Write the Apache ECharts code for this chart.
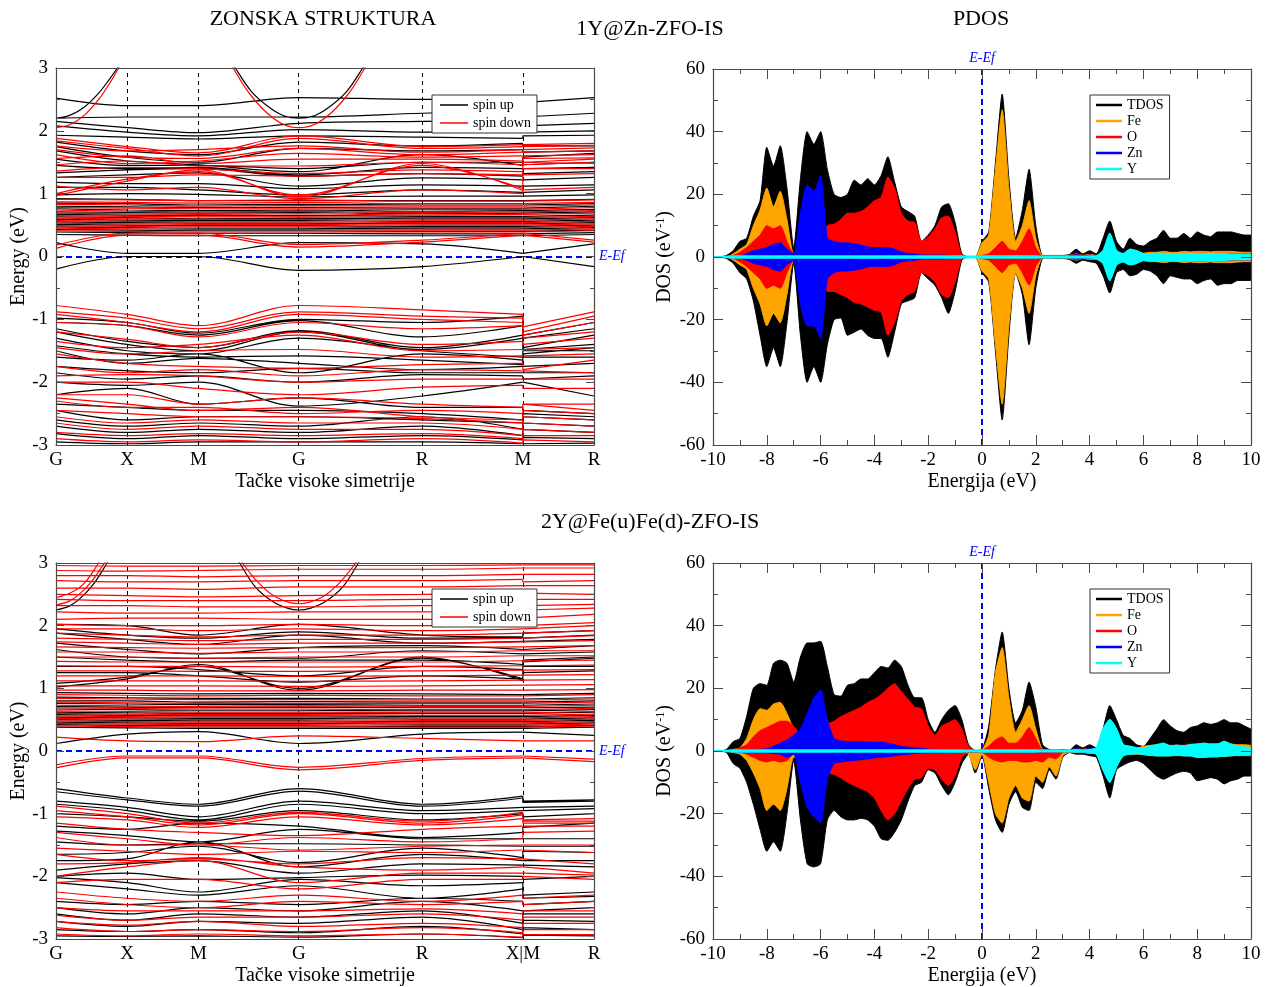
<!DOCTYPE html>
<html>
<head>
<meta charset="utf-8">
<script src="https://cdn.jsdelivr.net/npm/echarts@6/dist/echarts.min.js"></script>
<style>
  html, body { margin: 0; padding: 0; background: #fff; }
  #chart { width: 1274px; height: 987px; }
</style>
</head>
<body>
<div id="chart"></div>
<script>
// ---------- k-path (band structure x axis) ----------
const kPos = [0, 1, 2, 3.414, 5.146, 6.560, 7.560];
const kLabelsTop = ['G', 'X', 'M', 'G', 'R', 'M', 'R'];
const kLabelsBottom = ['G', 'X', 'M', 'G', 'R', 'X|M', 'R'];

// Band energies (eV) at G, X, M, G, R, M | M, R
// ---- 1Y@Zn-ZFO-IS, spin up ----
const bandsUpA = [
  [2.52, 2.40, 2.40, 2.53, 2.50, 2.50, 2.45, 2.53],
  [2.20, 2.22, 2.22, 2.22, 2.28, 2.33, 2.22, 2.28],
  [2.15, 2.05, 1.97, 2.12, 2.15, 2.16, 2.08, 2.12],
  [2.08, 1.98, 1.92, 2.02, 1.98, 1.98, 1.98, 2.00],
  [1.93, 1.90, 1.87, 1.92, 1.90, 1.88, 1.92, 1.93],
  [1.82, 1.68, 1.62, 1.82, 1.76, 1.80, 1.76, 1.76],
  [1.75, 1.58, 1.50, 1.72, 1.68, 1.70, 1.66, 1.68],
  [1.68, 1.52, 1.46, 1.35, 1.62, 1.45, 1.58, 1.64],
  [1.55, 1.45, 1.45, 1.40, 1.50, 1.50, 1.46, 1.50],
  [1.45, 1.40, 1.42, 1.30, 1.42, 1.40, 1.40, 1.42],
  [1.33, 1.38, 1.40, 1.28, 1.32, 1.28, 1.32, 1.35],
  [1.26, 1.30, 1.33, 1.12, 1.25, 1.22, 1.24, 1.26],
  [1.18, 1.16, 1.16, 1.08, 1.14, 1.12, 1.12, 1.14],
  [1.10, 1.10, 1.06, 0.98, 1.06, 1.02, 1.04, 1.06],
  [0.98, 1.00, 0.99, 0.95, 0.96, 0.96, 0.97, 0.98],
  [0.92, 0.91, 0.89, 0.89, 0.89, 0.89, 0.90, 0.91],
  [0.85, 0.84, 0.82, 0.83, 0.82, 0.82, 0.84, 0.84],
  [0.80, 0.79, 0.78, 0.78, 0.77, 0.77, 0.79, 0.80],
  [0.76, 0.74, 0.73, 0.74, 0.72, 0.73, 0.75, 0.75],
  [0.71, 0.70, 0.69, 0.70, 0.68, 0.69, 0.70, 0.71],
  [0.67, 0.66, 0.65, 0.65, 0.64, 0.64, 0.66, 0.66],
  [0.63, 0.62, 0.60, 0.61, 0.60, 0.60, 0.62, 0.62],
  [0.59, 0.58, 0.57, 0.57, 0.56, 0.56, 0.58, 0.58],
  [0.55, 0.54, 0.53, 0.53, 0.52, 0.52, 0.54, 0.54],
  [0.51, 0.50, 0.49, 0.49, 0.48, 0.48, 0.50, 0.50],
  [0.47, 0.46, 0.45, 0.45, 0.44, 0.44, 0.46, 0.46],
  [0.43, 0.42, 0.41, 0.41, 0.40, 0.40, 0.42, 0.42],
  [0.39, 0.38, 0.37, 0.37, 0.36, 0.36, 0.38, 0.38],
  [0.35, 0.34, 0.33, 0.33, 0.33, 0.33, 0.34, 0.35],
  [0.22, 0.05, 0.05, 0.22, 0.20, 0.05, 0.05, 0.20],
  [-0.20, 0.00, 0.00, -0.22, -0.16, 0.00, 0.00, -0.16],
  [-0.98, -1.05, -1.22, -1.00, -1.05, -0.95, -1.25, -1.05],
  [-1.05, -1.10, -1.25, -1.02, -1.28, -1.10, -1.30, -1.15],
  [-1.15, -1.35, -1.45, -1.18, -1.45, -1.25, -1.45, -1.25],
  [-1.20, -1.40, -1.50, -1.20, -1.48, -1.30, -1.48, -1.40],
  [-1.30, -1.50, -1.55, -1.30, -1.50, -1.60, -1.55, -1.45],
  [-1.42, -1.55, -1.60, -1.58, -1.65, -1.72, -1.60, -1.60],
  [-1.50, -1.70, -1.62, -1.70, -1.80, -1.75, -1.75, -1.70],
  [-1.60, -1.65, -1.55, -1.85, -1.55, -1.65, -1.50, -1.50],
  [-1.75, -1.82, -1.85, -1.78, -1.85, -1.85, -1.85, -1.85],
  [-1.85, -1.95, -1.90, -2.00, -1.88, -1.90, -1.95, -1.90],
  [-2.00, -2.05, -2.00, -2.38, -2.22, -2.00, -2.03, -2.22],
  [-2.20, -2.10, -2.35, -2.25, -2.40, -2.40, -2.45, -2.50],
  [-2.35, -2.40, -2.45, -2.45, -2.50, -2.60, -2.50, -2.55],
  [-2.45, -2.60, -2.55, -2.55, -2.60, -2.65, -2.55, -2.60],
  [-2.60, -2.70, -2.65, -2.70, -2.55, -2.75, -2.65, -2.70],
  [-2.70, -2.80, -2.75, -2.80, -2.70, -2.85, -2.75, -2.80],
  [-2.82, -2.90, -2.85, -2.90, -2.85, -2.92, -2.88, -2.90],
  [-2.95, -2.98, -2.95, -2.95, -2.95, -2.98, -2.95, -2.97]
];
// ---- 1Y@Zn-ZFO-IS, spin down ----
const bandsDownA = [
  [1.88, 1.75, 1.65, 1.92, 1.75, 1.78, 1.80, 1.80],
  [1.84, 1.72, 1.60, 1.88, 1.72, 1.75, 1.76, 1.77],
  [1.76, 1.68, 1.70, 1.76, 1.66, 1.70, 1.72, 1.73],
  [1.70, 1.58, 1.56, 1.72, 1.62, 1.66, 1.66, 1.68],
  [1.62, 1.48, 1.52, 1.64, 1.58, 1.60, 1.62, 1.62],
  [1.56, 1.60, 1.48, 1.55, 1.55, 1.52, 1.56, 1.57],
  [1.46, 1.52, 1.44, 1.44, 1.50, 1.46, 1.50, 1.48],
  [1.36, 1.42, 1.40, 1.32, 1.38, 1.35, 1.40, 1.40],
  [1.26, 1.26, 1.30, 1.28, 1.32, 1.30, 1.30, 1.32],
  [0.97, 1.20, 1.38, 0.95, 1.48, 1.05, 1.50, 1.55],
  [1.00, 1.23, 1.35, 0.98, 1.45, 1.08, 1.46, 1.50],
  [1.12, 1.06, 1.10, 0.92, 1.06, 1.00, 1.06, 1.10],
  [0.91, 0.90, 0.89, 0.90, 0.88, 0.88, 0.90, 0.90],
  [0.87, 0.86, 0.85, 0.86, 0.84, 0.84, 0.86, 0.86],
  [0.83, 0.82, 0.80, 0.81, 0.80, 0.80, 0.82, 0.82],
  [0.78, 0.77, 0.76, 0.76, 0.75, 0.75, 0.77, 0.78],
  [0.74, 0.72, 0.71, 0.72, 0.70, 0.71, 0.73, 0.73],
  [0.69, 0.68, 0.67, 0.68, 0.66, 0.67, 0.68, 0.69],
  [0.65, 0.64, 0.63, 0.63, 0.62, 0.62, 0.64, 0.64],
  [0.61, 0.60, 0.59, 0.59, 0.58, 0.58, 0.60, 0.60],
  [0.57, 0.56, 0.55, 0.55, 0.54, 0.54, 0.56, 0.56],
  [0.53, 0.52, 0.51, 0.51, 0.50, 0.50, 0.52, 0.52],
  [0.49, 0.48, 0.47, 0.47, 0.46, 0.46, 0.48, 0.48],
  [0.45, 0.44, 0.43, 0.43, 0.42, 0.42, 0.44, 0.44],
  [0.41, 0.40, 0.39, 0.39, 0.39, 0.39, 0.40, 0.41],
  [0.18, 0.37, 0.37, 0.19, 0.26, 0.37, 0.37, 0.26],
  [0.13, 0.34, 0.34, 0.15, 0.23, 0.34, 0.34, 0.23],
  [-0.78, -0.92, -1.10, -0.78, -0.85, -0.92, -1.12, -0.88],
  [-0.88, -0.98, -1.15, -0.88, -0.95, -0.98, -1.20, -0.95],
  [-0.92, -1.05, -1.20, -0.92, -1.00, -1.05, -1.25, -1.05],
  [-1.05, -1.10, -1.28, -1.05, -1.15, -1.10, -1.30, -1.20],
  [-1.20, -1.32, -1.45, -1.20, -1.40, -1.35, -1.40, -1.30],
  [-1.35, -1.45, -1.40, -1.25, -1.50, -1.48, -1.50, -1.45],
  [-1.45, -1.55, -1.50, -1.48, -1.60, -1.58, -1.55, -1.55],
  [-1.55, -1.70, -1.75, -1.78, -1.72, -1.70, -1.80, -1.65],
  [-1.75, -1.85, -1.80, -1.90, -1.80, -1.82, -1.85, -1.85],
  [-1.90, -1.88, -1.90, -2.00, -1.95, -1.95, -1.95, -1.95],
  [-2.00, -2.00, -2.10, -2.20, -2.08, -2.05, -2.10, -2.10],
  [-2.20, -2.20, -2.35, -2.25, -2.35, -2.40, -2.35, -2.35],
  [-2.25, -2.35, -2.45, -2.40, -2.55, -2.60, -2.35, -2.45],
  [-2.30, -2.40, -2.40, -2.50, -2.45, -2.50, -2.45, -2.50],
  [-2.45, -2.50, -2.55, -2.55, -2.58, -2.65, -2.55, -2.60],
  [-2.55, -2.65, -2.60, -2.65, -2.65, -2.75, -2.65, -2.70],
  [-2.65, -2.75, -2.70, -2.75, -2.75, -2.85, -2.75, -2.80],
  [-2.80, -2.85, -2.82, -2.85, -2.82, -2.90, -2.85, -2.85],
  [-2.90, -2.95, -2.92, -2.95, -2.90, -2.97, -2.92, -2.95]
];
// steep conduction bands around G, as [k, E] pairs
const curvesUpA = [
  [[0, 2.20], [0.2, 2.25], [0.4, 2.38], [0.6, 2.60], [0.75, 2.82], [0.86, 3.0], [0.93, 3.15]],
  [[2.45, 3.15], [2.52, 3.0], [2.75, 2.62], [3.0, 2.37], [3.2, 2.24], [3.414, 2.20], [3.63, 2.24], [3.83, 2.37], [4.08, 2.62], [4.31, 3.0], [4.38, 3.15]]
];
const curvesDownA = [
  [[0, 2.05], [0.2, 2.10], [0.4, 2.25], [0.6, 2.50], [0.75, 2.75], [0.88, 3.0], [0.95, 3.15]],
  [[2.42, 3.15], [2.49, 3.0], [2.7, 2.62], [2.95, 2.30], [3.2, 2.10], [3.414, 2.05], [3.63, 2.10], [3.88, 2.30], [4.13, 2.62], [4.34, 3.0], [4.41, 3.15]]
];

// ---- 2Y@Fe(u)Fe(d)-ZFO-IS, spin up ----
const bandsUpB = [
  [2.02, 2.00, 1.85, 2.02, 1.85, 1.82, 1.88, 1.92],
  [1.95, 1.85, 1.80, 1.90, 1.80, 1.80, 1.80, 1.85],
  [1.88, 1.78, 1.70, 1.85, 1.72, 1.75, 1.75, 1.78],
  [1.72, 1.62, 1.55, 1.65, 1.68, 1.62, 1.65, 1.68],
  [1.62, 1.50, 1.48, 1.48, 1.60, 1.55, 1.55, 1.58],
  [1.50, 1.45, 1.42, 1.45, 1.45, 1.38, 1.45, 1.50],
  [1.35, 1.35, 1.30, 1.20, 1.35, 1.30, 1.35, 1.35],
  [1.25, 1.25, 1.20, 1.10, 1.20, 1.15, 1.25, 1.28],
  [1.02, 1.15, 1.38, 0.97, 1.50, 1.12, 1.45, 1.50],
  [1.08, 1.18, 1.35, 1.00, 1.48, 1.15, 1.42, 1.48],
  [0.93, 0.92, 0.91, 0.92, 0.91, 0.90, 0.92, 0.92],
  [0.86, 0.85, 0.84, 0.84, 0.83, 0.83, 0.85, 0.85],
  [0.80, 0.80, 0.78, 0.79, 0.78, 0.78, 0.80, 0.80],
  [0.76, 0.75, 0.74, 0.74, 0.73, 0.73, 0.75, 0.75],
  [0.71, 0.70, 0.69, 0.70, 0.69, 0.69, 0.70, 0.70],
  [0.67, 0.66, 0.65, 0.65, 0.64, 0.64, 0.66, 0.66],
  [0.62, 0.61, 0.60, 0.60, 0.60, 0.60, 0.61, 0.62],
  [0.58, 0.57, 0.56, 0.56, 0.55, 0.55, 0.57, 0.57],
  [0.54, 0.53, 0.52, 0.52, 0.51, 0.51, 0.53, 0.53],
  [0.50, 0.49, 0.48, 0.48, 0.47, 0.47, 0.49, 0.49],
  [0.46, 0.45, 0.44, 0.44, 0.43, 0.43, 0.45, 0.45],
  [0.42, 0.41, 0.40, 0.40, 0.39, 0.39, 0.41, 0.41],
  [0.38, 0.37, 0.36, 0.36, 0.36, 0.36, 0.37, 0.38],
  [0.12, 0.27, 0.31, 0.12, 0.27, 0.30, 0.32, 0.25],
  [-0.60, -0.75, -0.85, -0.60, -0.85, -0.72, -0.80, -0.78],
  [-0.65, -0.78, -0.88, -0.64, -0.88, -0.75, -0.82, -0.80],
  [-0.80, -0.90, -1.05, -0.80, -0.95, -0.90, -0.90, -0.88],
  [-0.85, -0.95, -1.10, -0.85, -1.00, -0.95, -0.95, -0.92],
  [-1.00, -1.05, -1.12, -0.95, -1.10, -1.00, -1.05, -1.00],
  [-1.20, -1.25, -1.15, -1.20, -1.38, -1.30, -1.22, -1.15],
  [-1.28, -1.35, -1.45, -1.25, -1.40, -1.40, -1.40, -1.40],
  [-1.45, -1.50, -1.48, -1.48, -1.50, -1.52, -1.50, -1.52],
  [-1.65, -1.62, -1.52, -1.78, -1.55, -1.70, -1.60, -1.62],
  [-1.75, -1.72, -1.45, -1.85, -1.65, -1.75, -1.72, -1.75],
  [-1.90, -1.80, -1.75, -1.95, -1.80, -1.82, -1.85, -1.85],
  [-2.00, -1.95, -2.05, -2.02, -1.98, -2.00, -2.05, -2.00],
  [-2.02, -2.10, -2.25, -2.05, -2.15, -2.10, -2.30, -2.25],
  [-2.10, -2.20, -2.30, -2.15, -2.35, -2.20, -2.35, -2.32],
  [-2.40, -2.45, -2.40, -2.45, -2.35, -2.40, -2.45, -2.40],
  [-2.50, -2.60, -2.50, -2.55, -2.40, -2.55, -2.55, -2.50],
  [-2.60, -2.70, -2.60, -2.65, -2.55, -2.75, -2.60, -2.60],
  [-2.72, -2.80, -2.72, -2.75, -2.65, -2.85, -2.70, -2.72],
  [-2.85, -2.88, -2.85, -2.90, -2.80, -2.92, -2.82, -2.85],
  [-2.95, -2.96, -2.95, -2.97, -2.92, -2.98, -2.94, -2.95]
];
// ---- 2Y@Fe(u)Fe(d)-ZFO-IS, spin down ----
const bandsDownB = [
  [2.96, 2.95, 2.95, 2.96, 2.96, 2.97, 2.96, 2.97],
  [2.88, 2.87, 2.88, 2.90, 2.90, 2.92, 2.90, 2.92],
  [2.80, 2.80, 2.78, 2.80, 2.80, 2.82, 2.80, 2.82],
  [2.72, 2.70, 2.70, 2.72, 2.72, 2.74, 2.70, 2.72],
  [2.60, 2.60, 2.58, 2.62, 2.62, 2.64, 2.62, 2.64],
  [2.50, 2.48, 2.46, 2.48, 2.50, 2.52, 2.50, 2.50],
  [2.42, 2.40, 2.40, 2.40, 2.42, 2.42, 2.40, 2.42],
  [2.32, 2.32, 2.30, 2.30, 2.32, 2.32, 2.32, 2.34],
  [2.22, 2.20, 2.20, 2.22, 2.22, 2.25, 2.24, 2.28],
  [2.10, 2.12, 2.12, 2.10, 2.10, 2.12, 2.15, 2.18],
  [2.02, 2.00, 2.00, 2.02, 2.00, 2.00, 2.02, 2.05],
  [1.95, 1.95, 1.92, 1.95, 1.92, 1.95, 1.98, 2.00],
  [1.88, 1.85, 1.82, 1.85, 1.85, 1.88, 1.90, 1.92],
  [1.80, 1.78, 1.76, 1.78, 1.78, 1.80, 1.82, 1.84],
  [1.74, 1.72, 1.70, 1.72, 1.72, 1.74, 1.75, 1.76],
  [1.66, 1.65, 1.64, 1.65, 1.65, 1.66, 1.68, 1.68],
  [1.58, 1.58, 1.56, 1.58, 1.58, 1.60, 1.60, 1.60],
  [1.50, 1.50, 1.48, 1.50, 1.50, 1.52, 1.52, 1.52],
  [1.43, 1.42, 1.42, 1.42, 1.42, 1.44, 1.44, 1.45],
  [1.36, 1.35, 1.35, 1.34, 1.35, 1.36, 1.36, 1.37],
  [1.28, 1.28, 1.27, 1.27, 1.28, 1.29, 1.29, 1.30],
  [1.20, 1.20, 1.20, 1.19, 1.20, 1.21, 1.21, 1.22],
  [1.12, 1.12, 1.12, 1.11, 1.12, 1.13, 1.13, 1.14],
  [1.04, 1.04, 1.04, 1.03, 1.04, 1.05, 1.05, 1.06],
  [0.97, 0.97, 0.96, 0.96, 0.97, 0.97, 0.98, 0.98],
  [0.90, 0.89, 0.88, 0.89, 0.88, 0.88, 0.89, 0.90],
  [0.84, 0.83, 0.82, 0.82, 0.81, 0.81, 0.83, 0.83],
  [0.78, 0.77, 0.76, 0.76, 0.76, 0.76, 0.77, 0.78],
  [0.73, 0.72, 0.71, 0.72, 0.71, 0.71, 0.72, 0.73],
  [0.69, 0.68, 0.67, 0.67, 0.66, 0.66, 0.68, 0.68],
  [0.64, 0.63, 0.62, 0.62, 0.61, 0.61, 0.63, 0.63],
  [0.60, 0.59, 0.58, 0.58, 0.57, 0.57, 0.59, 0.59],
  [0.56, 0.55, 0.54, 0.54, 0.53, 0.53, 0.55, 0.55],
  [0.52, 0.51, 0.50, 0.50, 0.49, 0.49, 0.51, 0.51],
  [0.48, 0.47, 0.46, 0.46, 0.45, 0.45, 0.47, 0.47],
  [0.44, 0.43, 0.42, 0.42, 0.41, 0.41, 0.43, 0.43],
  [0.40, 0.39, 0.38, 0.38, 0.38, 0.38, 0.39, 0.40],
  [0.22, 0.16, 0.15, 0.24, 0.20, 0.16, 0.16, 0.16],
  [-0.22, -0.08, -0.08, -0.26, -0.12, -0.08, -0.08, -0.13],
  [-0.27, -0.11, -0.11, -0.30, -0.15, -0.11, -0.11, -0.17],
  [-0.88, -1.00, -1.15, -0.98, -1.12, -0.98, -1.10, -1.08],
  [-0.95, -1.05, -1.18, -1.00, -1.15, -1.02, -1.12, -1.12],
  [-1.05, -1.10, -1.22, -1.05, -1.18, -1.08, -1.15, -1.15],
  [-1.15, -1.25, -1.30, -1.35, -1.25, -1.20, -1.22, -1.20],
  [-1.30, -1.40, -1.50, -1.38, -1.45, -1.40, -1.30, -1.28],
  [-1.38, -1.50, -1.50, -1.58, -1.52, -1.50, -1.50, -1.50],
  [-1.55, -1.60, -1.65, -1.60, -1.62, -1.58, -1.60, -1.62],
  [-1.65, -1.75, -1.72, -1.80, -1.70, -1.72, -1.75, -1.80],
  [-1.80, -1.78, -1.70, -1.85, -1.90, -1.85, -1.85, -1.95],
  [-2.00, -1.85, -1.75, -2.10, -1.95, -1.95, -1.92, -1.98],
  [-2.10, -2.05, -2.05, -2.20, -2.05, -2.05, -2.00, -2.05],
  [-2.25, -2.35, -2.40, -2.30, -2.40, -2.30, -2.35, -2.30],
  [-2.35, -2.45, -2.50, -2.40, -2.45, -2.40, -2.45, -2.40],
  [-2.50, -2.55, -2.55, -2.55, -2.52, -2.60, -2.55, -2.55],
  [-2.62, -2.70, -2.65, -2.65, -2.60, -2.70, -2.65, -2.65],
  [-2.72, -2.78, -2.72, -2.80, -2.75, -2.82, -2.75, -2.75],
  [-2.82, -2.88, -2.85, -2.88, -2.82, -2.90, -2.85, -2.85],
  [-2.92, -2.95, -2.92, -2.95, -2.92, -2.97, -2.93, -2.93]
];
const curvesUpB = [
  [[0, 2.25], [0.2, 2.32], [0.4, 2.50], [0.55, 2.70], [0.72, 3.0], [0.78, 3.1]],
  [[2.50, 3.15], [2.58, 3.0], [2.8, 2.62], [3.05, 2.38], [3.25, 2.28], [3.414, 2.25], [3.58, 2.28], [3.78, 2.38], [4.03, 2.62], [4.25, 3.0], [4.33, 3.15]]
];
const curvesDownB = [
  [[0, 2.33], [0.2, 2.40], [0.4, 2.58], [0.55, 2.78], [0.68, 3.0], [0.74, 3.1]],
  [[0, 2.45], [0.2, 2.52], [0.4, 2.68], [0.6, 3.0], [0.66, 3.1]],
  [[2.55, 3.15], [2.62, 3.0], [2.85, 2.68], [3.1, 2.45], [3.414, 2.35], [3.73, 2.45], [3.98, 2.68], [4.21, 3.0], [4.28, 3.15]]
];

// ---------- PDOS (states/eV), energies from -10 to 10 eV ----------
const energy = [
  -10, -9.75, -9.5, -9.25, -9, -8.75, -8.5, -8.25, -8, -7.75, -7.5, -7.25,
  -7, -6.75, -6.5, -6.25, -6, -5.75, -5.5, -5.25, -5, -4.75, -4.5, -4.25,
  -4, -3.75, -3.5, -3.25, -3, -2.75, -2.5, -2.25, -2, -1.75, -1.5, -1.25,
  -1, -0.75, -0.5, -0.25, 0, 0.25, 0.5, 0.75, 1, 1.25, 1.5, 1.75,
  2, 2.25, 2.5, 2.75, 3, 3.25, 3.5, 3.75, 4, 4.25, 4.5, 4.75,
  5, 5.25, 5.5, 5.75, 6, 6.25, 6.5, 6.75, 7, 7.25, 7.5, 7.75,
  8, 8.25, 8.5, 8.75, 9, 9.25, 9.5, 9.75, 10
];

// 1Y@Zn-ZFO-IS
const tdosUpA = [0,0,0.5,2, 5,6,13,18, 35,29,35.5,22, 3,25,40,36, 40,28,20,19, 20,24.5,23,25,
  23,26,32,24, 16,14.5,13,5, 7,10,16,17, 11,1,0,0, 5,8,30,52, 25,6,15,28, 10,0.5,0.5,0.5,
  0.5,0.8,2.5,1, 2,1,6,11.5, 5,2.5,6,4, 3.5,5,6,8.5, 6,6,7.5,6, 8,7,6.5,8, 8,8,7.5,7, 7];
const feUpA = [0,0,0,1, 2.5,4,10,15, 22,16,21,12, 1,1,2,2, 2,1.5,1.5,1.5, 1.5,1.5,1.5,1.5,
  1.5,1.5,1.5,1.5, 1.2,1.2,1.2,1, 1,1,1.2,1.2, 1,0.3,0,0, 4.5,7,28,47, 22,5,10,18, 6,0.3,0.3,0.3,
  0.3,0.5,1,0.5, 0.8,0.5,1.5,2, 1.5,1,1.5,1.5, 1.2,1.5,1.5,1.8, 1.5,1.5,1.8,1.6, 1.8,1.8,1.6,1.8, 1.8,1.8,1.6,1.5, 1.5];
const oUpA = [0,0,0.2,0.5, 1.5,3,5,7, 10,9,10,5, 1,3,4,4, 6,10,10.5,12, 14,14,14.5,16,
  18,19,25.5,22, 14,11.5,11,5, 6.5,9,12.5,13, 8,0.5,0,0, 0.5,1,3,5, 2.5,2,5,9, 3,0.2,0.2,0.2,
  0.2,0.4,1,0.5, 0.6,0.4,1,1.5, 1,0.8,1,1, 1,1,1,1.2, 1,1,1.2,1.1, 1.2,1.2,1.1,1.2, 1.2,1.2,1.1,1, 1];
const znUpA = [0,0,0,0.2, 0.3,1,2,2.5, 3,4,4.5,2.5, 1,14,23,21, 26,6,5,4.5, 4.5,4.2,3.8,3.2,
  3,3,3,2.5, 1.5,1.2,1,0.6, 0.6,0.6,0.6,0.5, 0.3,0.1,0,0, 0.1,0.1,0.2,0.3, 0.2,0.1,0.2,0.3, 0.2,0.1,0.1,0.1,
  0.1,0.2,0.8,0.3, 0.6,0.3,1.2,2, 1,0.5,0.8,0.5, 0.4,0.4,0.4,0.4, 0.4,0.4,0.4,0.4, 0.4,0.4,0.4,0.4, 0.4,0.4,0.4,0.4, 0.4];
const yUpA = [0,0,0.2,0.3, 0.3,0.3,0.3,0.3, 0.3,0.3,0.3,0.3, 0.3,0.3,0.3,0.3, 0.3,0.3,0.3,0.3, 0.3,0.3,0.3,0.3,
  0.3,0.3,0.3,0.3, 0.3,0.3,0.3,0.3, 0.3,0.3,0.3,0.3, 0.3,0.3,0.2,0.2, 0.3,0.3,0.3,0.3, 0.3,0.3,0.3,0.3, 0.3,0.2,0.2,0.2,
  0.2,0.2,0.3,0.2, 0.3,0.3,2,7.5, 2,1,2.5,2, 1,1,1.2,1, 1,1,1.1,1, 1,1,1,1, 1,0.9,0.9,0.8, 0.8];
const tdosDnA = [0,0,-0.5,-2, -5,-7,-14,-25, -35,-29,-35,-21, -2,-25,-40,-35, -40,-28,-20,-19.5, -25,-24,-23,-25,
  -26,-26,-32,-24, -15,-14,-13,-5, -7,-9,-13,-18, -11,-1,0,0, -5,-8,-30,-52, -25,-5,-12,-28, -10,-0.5,-0.3,-0.5,
  -0.5,-0.8,-2,-1, -1.5,-2,-6,-11.5, -5,-4,-6,-5.5, -4,-4.5,-6,-8.5, -6,-6.5,-7,-7, -8.5,-7.5,-7,-9, -8.5,-8.5,-7.5,-7.5, -7.5];
const feDnA = [0,0,0,-1, -2.5,-4,-10,-15, -22,-18,-21,-12, -1,-1,-2,-2, -2,-1.5,-1.5,-1.5, -1.5,-1.5,-1.5,-1.5,
  -1.5,-1.5,-1.5,-1.5, -1.2,-1.2,-1.2,-1, -1,-1,-1.2,-1.2, -1,-0.3,0,0, -4.5,-7,-28,-47, -22,-5,-10,-18, -6,-0.3,-0.3,-0.3,
  -0.3,-0.5,-1,-0.5, -0.8,-0.8,-1.5,-2, -1.5,-1.2,-1.5,-1.5, -1.2,-1.5,-1.5,-1.8, -1.5,-1.5,-1.8,-1.6, -1.8,-1.8,-1.6,-1.8, -1.8,-1.8,-1.6,-1.5, -1.5];
const oDnA = [0,0,-0.2,-0.5, -1.5,-3,-5,-7, -10,-9,-10,-5, -1,-3,-4,-4, -6,-11,-11,-12, -13,-14.5,-15,-16,
  -17,-17.5,-25,-21, -14,-12,-11,-5, -6,-8,-12,-13, -8,-0.5,0,0, -0.5,-1,-3,-5, -2.5,-2,-5,-9, -3,-0.2,-0.2,-0.2,
  -0.2,-0.4,-0.8,-0.5, -0.6,-0.6,-1,-1.5, -1,-0.8,-1,-1, -1,-1,-1,-1.2, -1,-1,-1.2,-1.1, -1.2,-1.2,-1.1,-1.2, -1.2,-1.2,-1.1,-1, -1];
const znDnA = [0,0,0,-0.2, -0.3,-1,-2,-2.5, -3,-4,-4.5,-2.5, -1,-15,-22,-22, -26,-7,-5,-4.5, -4.5,-4.2,-3.8,-3.2,
  -3,-3,-3,-2.5, -1.5,-1.2,-1,-0.6, -0.6,-0.6,-0.6,-0.5, -0.3,-0.1,0,0, -0.1,-0.1,-0.2,-0.3, -0.2,-0.1,-0.2,-0.3, -0.2,-0.1,-0.1,-0.1,
  -0.1,-0.2,-0.6,-0.3, -0.5,-0.5,-1.2,-2, -1,-0.6,-0.8,-0.6, -0.5,-0.5,-0.5,-0.5, -0.5,-0.5,-0.5,-0.5, -0.5,-0.5,-0.5,-0.5, -0.5,-0.5,-0.5,-0.5, -0.5];
const yDnA = [0,0,-0.2,-0.3, -0.3,-0.3,-0.3,-0.3, -0.3,-0.3,-0.3,-0.3, -0.3,-0.3,-0.3,-0.3, -0.3,-0.3,-0.3,-0.3, -0.3,-0.3,-0.3,-0.3,
  -0.3,-0.3,-0.3,-0.3, -0.3,-0.3,-0.3,-0.3, -0.3,-0.3,-0.3,-0.3, -0.3,-0.3,-0.2,-0.2, -0.3,-0.3,-0.3,-0.3, -0.3,-0.3,-0.3,-0.3, -0.3,-0.2,-0.2,-0.2,
  -0.2,-0.2,-0.3,-0.2, -0.3,-0.5,-2,-7.5, -2.5,-1.5,-2.5,-2, -1,-1,-1.2,-1, -1,-1,-1.1,-1, -1,-1,-1,-1, -1,-0.9,-0.9,-0.8, -0.8];

// 2Y@Fe(u)Fe(d)-ZFO-IS
const tdosUpB = [0,0,0.5,3, 4,11,20,21.5, 21,28,29,28, 22,30,34.5,34.5, 35,27,18,17.5, 21,21.5,23,23,
  25,27,26.5,29, 27,21,17,17, 10,6,10,13, 14.5,10,2,0.2, 0.5,8,26,38, 20,9,13,22, 14,2,0.5,0.3,
  0.5,0.2,2,1, 2,1,7,14.5, 10,5,4,2, 1.5,4,7,10, 8,6.5,6,7.5, 8,9,8.5,9, 10,9,9,8, 7];
const feUpB = [0,0,0,0.5, 1,4,10,13.5, 13,15,15.5,12, 7,4,3,3, 3,2.5,2,2, 2,2,2,2,
  2,2,2,2, 2,2,2,2, 1.5,1.5,1.5,2, 2,1.5,0.5,0, 0.3,5,25,33, 17,6,10,14.5, 7,0.5,0.3,0.3,
  0.3,0.2,0.5,0.5, 0.8,0.5,1,1.5, 1.5,1,1,1, 1.5,1.8,2,2, 1.8,1.8,1.8,2, 2,2.2,2,2.2, 2.5,2.2,2,2, 1.8];
const oUpB = [0,0,0,0.3, 1,2,4.5,6.5, 7.5,8.5,9.5,9.5, 8,5,4,4, 6,8.5,9.5,11, 12,13,14,15.5,
  16.5,18,20,21.5, 19,16.5,14,13.5, 8,5,8,9, 10,7,1.5,0, 0.2,1.5,3.5,4.5, 2.5,2.5,4.5,7.5, 4,0.3,0.2,0.2,
  0.2,0.2,0.8,0.5, 0.8,0.5,0.8,1, 0.8,0.6,0.6,0.5, 0.8,1,1.2,1.2, 1,1,1,1.2, 1.2,1.2,1.2,1.2, 1.5,1.2,1.2,1, 1];
const znUpB = [0,0,0,0.2, 0.3,0.5,0.5,0.5, 0.8,1.5,2.5,3.5, 5,7,12,17, 19.5,10,4,3.2, 3,3,3,2.8,
  2.8,2.8,2.5,2, 1.5,1.2,1,0.8, 0.6,0.5,0.5,0.4, 0.4,0.3,0.1,0, 0.1,0.2,0.3,0.3, 0.2,0.2,0.2,0.3, 0.2,0.1,0.1,0.1,
  0.1,0.1,0.8,0.4, 0.8,0.5,1,1.5, 1.5,1,1,0.8, 0.6,0.6,0.6,0.6, 0.6,0.6,0.6,0.6, 0.6,0.6,0.6,0.6, 0.6,0.6,0.6,0.6, 0.6];
const yUpB = [0,0,0.2,0.3, 0.3,0.3,0.3,0.3, 0.3,0.3,0.3,0.3, 0.3,0.3,0.3,0.3, 0.3,0.3,0.3,0.3, 0.3,0.3,0.3,0.3,
  0.3,0.3,0.3,0.3, 0.3,0.3,0.3,0.3, 0.3,0.3,0.3,0.3, 0.3,0.3,0.2,0.2, 0.3,0.3,0.3,0.3, 0.3,0.3,0.3,0.3, 0.3,0.2,0.2,0.2,
  0.2,0.2,0.4,0.3, 0.4,1,7,10, 7,2,1.5,1, 0.8,1.5,2,2.5, 1.5,1.8,1.5,2, 2.2,2.5,2.2,2.2, 3,2.2,1.5,1.2, 1];
const tdosDnB = [0,0,-0.5,-4, -5.5,-10,-17,-25, -32,-29,-32,-20, -3,-22,-36,-37, -36,-22,-19,-21, -22,-22,-21.5,-22,
  -24,-28,-28.5,-26, -22,-16,-11,-10, -6,-7,-11,-14, -10,-4,-1,-7, -1.5,-12,-22,-26, -17,-13,-18,-19, -10,-12,-6,-9,
  -2,-0.5,-1,-1, -1.5,-2,-8,-15, -6,-4.5,-3.5,-3, -4,-6,-8,-9, -8,-7,-6.5,-7, -9.5,-9,-8.5,-9, -10.5,-9.5,-9,-8, -8];
const feDnB = [0,0,0,-0.5, -1,-3,-7,-12, -19,-17,-19,-12, -2,-2,-2,-2, -2,-1.5,-1.5,-1.5, -1.5,-1.5,-1.5,-1.5,
  -1.5,-1.5,-1.5,-1.5, -1.5,-1.2,-1,-1, -1,-1,-1,-1, -1,-0.5,-1,-6, -1,-10,-20,-23, -15,-11,-15,-16, -8,-10,-5,-8,
  -1.5,-0.3,-0.5,-0.5, -0.8,-0.8,-1.5,-2, -1.5,-1.2,-1,-1, -1.2,-1.5,-1.5,-1.5, -1.5,-1.5,-1.5,-1.5, -1.5,-1.5,-1.5,-1.5, -1.8,-1.5,-1.5,-1.5, -1.5];
const oDnB = [0,0,0,-0.5, -0.5,-1,-2,-3, -3.5,-3,-3.5,-3, -1,-2.5,-3,-3, -5,-7,-7.5,-8.5, -10,-11,-12,-13,
  -15,-19,-22,-20, -16,-12,-9,-8.5, -5.5,-6,-9,-11, -8,-2,-0.5,-0.5, -0.5,-2,-3,-3.5, -3,-3,-3.5,-3.5, -3,-3.5,-2,-2.5,
  -0.5,-0.3,-0.3,-0.3, -0.5,-0.5,-0.8,-1, -0.8,-0.6,-0.6,-0.6, -0.6,-0.8,-0.8,-0.8, -0.8,-0.8,-0.8,-0.8, -0.8,-0.8,-0.8,-0.8, -1,-0.8,-0.8,-0.8, -0.8];
const znDnB = [0,0,0,-0.2, -0.3,-0.5,-0.5,-0.5, -0.5,-0.8,-1,-2, -1,-10,-18,-21, -23,-9,-4,-3.5, -3.2,-3,-2.8,-2.5,
  -2.2,-2,-1.8,-1.5, -1.2,-1,-0.8,-0.6, -0.5,-0.5,-0.5,-0.4, -0.3,-0.2,-0.1,-0.1, -0.1,-0.2,-0.3,-0.3, -0.3,-0.3,-0.3,-0.3, -0.3,-0.3,-0.2,-0.2,
  -0.1,-0.1,-0.2,-0.3, -0.5,-0.5,-1,-1.5, -1,-0.8,-0.5,-0.5, -0.5,-0.5,-0.5,-0.5, -0.5,-0.5,-0.5,-0.5, -0.5,-0.5,-0.5,-0.5, -0.5,-0.5,-0.5,-0.5, -0.5];
const yDnB = [0,0,-0.2,-0.3, -0.3,-0.3,-0.3,-0.3, -0.3,-0.3,-0.3,-0.3, -0.3,-0.3,-0.3,-0.3, -0.3,-0.3,-0.3,-0.3, -0.3,-0.3,-0.3,-0.3,
  -0.3,-0.3,-0.3,-0.3, -0.3,-0.3,-0.3,-0.3, -0.3,-0.3,-0.3,-0.3, -0.3,-0.3,-0.2,-0.2, -0.3,-0.3,-0.3,-0.3, -0.3,-0.3,-0.3,-0.3, -0.3,-0.2,-0.2,-0.2,
  -0.2,-0.2,-0.3,-0.3, -0.4,-1,-6,-10, -5,-1.5,-1,-0.8, -1,-1.2,-1.5,-1.5, -1.5,-1.2,-1.5,-1.5, -2,-2,-1.8,-1.8, -1.5,-1.5,-1.2,-1, -1];

// ---------- styling ----------
const SERIF = '"Liberation Serif", "DejaVu Serif", serif';
const FRAME = '#4a4a4a';
const C_UP = '#000000', C_DN = '#ff0000';
const C_TDOS = '#000000', C_FE = '#ffa500', C_O = '#ff0000', C_ZN = '#0000ff', C_Y = '#00ffff';
const C_FERMI = '#0000ff';

const bandKnots = [kPos[0], kPos[1], kPos[2], kPos[3], kPos[4], kPos[5], kPos[5], kPos[6]];
const GAP = ['-', '-'];

// G..M part of every band (smoothed), plus steep conduction curves
function smoothPart(bands, curves) {
  const out = [];
  bands.forEach(b => {
    for (let i = 0; i < 6; i++) out.push([bandKnots[i], b[i]]);
    out.push(GAP);
  });
  curves.forEach(c => { c.forEach(p => out.push(p)); out.push(GAP); });
  return out;
}
// M | M -> R part of every band (includes the jump at the path break)
function tailPart(bands) {
  const out = [];
  bands.forEach(b => {
    for (let i = 5; i < 8; i++) out.push([bandKnots[i], b[i]]);
    out.push(GAP);
  });
  return out;
}
function pair(arr) { return energy.map((e, i) => [e, arr[i]]); }

const labelFont = { color: '#000', fontFamily: SERIF, fontSize: 19 };
const nameFont = { color: '#000', fontFamily: SERIF, fontSize: 20 };

const grids = [
  { left: 56, top: 68, width: 538, height: 377 },
  { left: 713, top: 69, width: 538, height: 376 },
  { left: 56, top: 563, width: 538, height: 377 },
  { left: 713, top: 563, width: 538, height: 377 }
];

const xAxes = [], yAxes = [];
function frameLine() { return { show: true, onZero: false, lineStyle: { color: FRAME, width: 1.2 } }; }

function addBandAxes(g, labels) {
  xAxes.push({
    type: 'value', gridIndex: g, min: 0, max: kPos[6], position: 'bottom', z: 60,
    axisLine: frameLine(), axisTick: { show: false }, splitLine: { show: false },
    axisLabel: {
      ...labelFont, margin: 6, customValues: kPos, showMinLabel: true, showMaxLabel: true,
      formatter: v => { const i = kPos.findIndex(k => Math.abs(k - v) < 1e-6); return i >= 0 ? labels[i] : ''; }
    },
    name: 'Tačke visoke simetrije', nameLocation: 'middle', nameGap: 27, nameTextStyle: nameFont
  });
  xAxes.push({
    type: 'value', gridIndex: g, min: 0, max: kPos[6], position: 'top', z: 60,
    axisLine: frameLine(), axisTick: { show: false }, axisLabel: { show: false }, splitLine: { show: false }
  });
  const ticks = {
    axisTick: { show: true, inside: true, length: 8, lineStyle: { color: FRAME } },
    minorTick: { show: true, splitNumber: 2, length: 4, lineStyle: { color: FRAME } },
    splitLine: { show: false }, minorSplitLine: { show: false }
  };
  yAxes.push({
    type: 'value', gridIndex: g, min: -3, max: 3, interval: 1, position: 'left', z: 60,
    axisLine: frameLine(), ...ticks,
    axisLabel: { ...labelFont, margin: 8 },
    name: 'Energy (eV)', nameLocation: 'middle', nameGap: 24, nameRotate: 90, nameTextStyle: nameFont
  });
  yAxes.push({
    type: 'value', gridIndex: g, min: -3, max: 3, interval: 1, position: 'right', z: 60,
    axisLine: frameLine(), ...ticks, axisLabel: { show: false }
  });
}

function addDosAxes(g) {
  const xt = {
    axisTick: { show: true, inside: true, length: 10, lineStyle: { color: FRAME } },
    minorTick: { show: true, splitNumber: 2, length: 5, lineStyle: { color: FRAME } },
    splitLine: { show: false }, minorSplitLine: { show: false }
  };
  xAxes.push({
    type: 'value', gridIndex: g, min: -10, max: 10, interval: 2, position: 'bottom', z: 60,
    axisLine: frameLine(), ...xt, axisLabel: { ...labelFont, margin: 6 },
    name: 'Energija (eV)', nameLocation: 'middle', nameGap: 27, nameTextStyle: nameFont
  });
  xAxes.push({
    type: 'value', gridIndex: g, min: -10, max: 10, interval: 2, position: 'top', z: 60,
    axisLine: frameLine(), ...xt, axisLabel: { show: false }
  });
  yAxes.push({
    type: 'value', gridIndex: g, min: -60, max: 60, interval: 20, position: 'left', z: 60,
    axisLine: frameLine(), ...xt, axisLabel: { ...labelFont, margin: 8 },
    name: 'DOS (eV{sup|-1})', nameLocation: 'middle', nameGap: 38, nameRotate: 90,
    nameTextStyle: { ...nameFont, rich: { sup: { fontFamily: SERIF, fontSize: 12, color: '#000', verticalAlign: 'top', padding: [0, 0, 6, 0] } } }
  });
  yAxes.push({
    type: 'value', gridIndex: g, min: -60, max: 60, interval: 20, position: 'right', z: 60,
    axisLine: frameLine(), ...xt, axisLabel: { show: false }
  });
}

addBandAxes(0, kLabelsTop);
addDosAxes(1);
addBandAxes(2, kLabelsBottom);
addDosAxes(3);

const fermiLabel = { show: true, formatter: 'E-Ef', color: C_FERMI, fontFamily: SERIF, fontStyle: 'italic', fontSize: 14 };

const series = [];
function addBandSeries(g, up, upCurves, dn, dnCurves) {
  const ax = { xAxisIndex: 2 * g, yAxisIndex: 2 * g };
  const common = { type: 'line', symbol: 'none', showSymbol: false, connectNulls: false, silent: true, animation: false };
  series.push({
    ...common, ...ax, z: 10, name: 'spin up', data: smoothPart(up, upCurves), smooth: 0.35,
    lineStyle: { color: C_UP, width: 1.2 }, itemStyle: { color: C_UP },
    markLine: {
      silent: true, symbol: ['none', 'none'], animation: false, label: { show: false },
      lineStyle: { color: '#000', type: [4, 4], width: 1 },
      data: kPos.slice(1, 6).map(k => ({ xAxis: k }))
    }
  });
  series.push({ ...common, ...ax, z: 11, name: 'spin up', data: tailPart(up), lineStyle: { color: C_UP, width: 1.2 }, itemStyle: { color: C_UP } });
  series.push({ ...common, ...ax, z: 12, name: 'spin down', data: smoothPart(dn, dnCurves), smooth: 0.35, lineStyle: { color: C_DN, width: 1.2 }, itemStyle: { color: C_DN } });
  series.push({
    ...common, ...ax, z: 13, name: 'spin down', data: tailPart(dn), lineStyle: { color: C_DN, width: 1.2 }, itemStyle: { color: C_DN },
    markLine: {
      silent: true, symbol: ['none', 'none'], animation: false,
      lineStyle: { color: C_FERMI, type: [6, 4], width: 2 },
      label: { ...fermiLabel, position: 'end', distance: 5 },
      data: [{ yAxis: 0 }]
    }
  });
}

// each species gets its own z so fills and outlines stack strictly in order
function addDosSeries(g, sets) {
  const ax = { xAxisIndex: 2 * g, yAxisIndex: 2 * g };
  sets.forEach((s, idx) => {
    const item = {
      type: 'line', symbol: 'none', showSymbol: false, silent: true, animation: false, smooth: 0.2,
      ...ax, z: 10 + idx, name: s.name, data: pair(s.values),
      lineStyle: { color: s.color, width: s.name === 'Y' ? 1.5 : 1 },
      itemStyle: { color: s.color }, areaStyle: { color: s.color, opacity: 1 }
    };
    if (idx === sets.length - 1) {
      item.markLine = {
        silent: true, symbol: ['none', 'none'], animation: false,
        lineStyle: { color: C_FERMI, type: [6, 4], width: 2 },
        label: { ...fermiLabel, position: 'end', distance: 4 },
        data: [{ xAxis: 0 }]
      };
    }
    series.push(item);
  });
}

addBandSeries(0, bandsUpA, curvesUpA, bandsDownA, curvesDownA);
addDosSeries(1, [
  { name: 'TDOS', color: C_TDOS, values: tdosUpA }, { name: 'TDOS', color: C_TDOS, values: tdosDnA },
  { name: 'Fe', color: C_FE, values: feUpA }, { name: 'Fe', color: C_FE, values: feDnA },
  { name: 'O', color: C_O, values: oUpA }, { name: 'O', color: C_O, values: oDnA },
  { name: 'Zn', color: C_ZN, values: znUpA }, { name: 'Zn', color: C_ZN, values: znDnA },
  { name: 'Y', color: C_Y, values: yUpA }, { name: 'Y', color: C_Y, values: yDnA }
]);
addBandSeries(2, bandsUpB, curvesUpB, bandsDownB, curvesDownB);
addDosSeries(3, [
  { name: 'TDOS', color: C_TDOS, values: tdosUpB }, { name: 'TDOS', color: C_TDOS, values: tdosDnB },
  { name: 'Fe', color: C_FE, values: feUpB }, { name: 'Fe', color: C_FE, values: feDnB },
  { name: 'O', color: C_O, values: oUpB }, { name: 'O', color: C_O, values: oDnB },
  { name: 'Zn', color: C_ZN, values: znUpB }, { name: 'Zn', color: C_ZN, values: znDnB },
  { name: 'Y', color: C_Y, values: yUpB }, { name: 'Y', color: C_Y, values: yDnB }
]);

const legendBase = {
  orient: 'vertical', icon: 'rect', backgroundColor: '#fff', borderColor: '#333', borderWidth: 1, z: 80,
  textStyle: { fontFamily: SERIF, fontSize: 14, color: '#000' }, selectedMode: false
};
const legends = [
  { ...legendBase, data: ['spin up', 'spin down'], left: 432, top: 95, itemWidth: 28, itemHeight: 1.5, itemGap: 4, padding: [3, 6, 3, 8] },
  { ...legendBase, data: ['spin up', 'spin down'], left: 432, top: 589, itemWidth: 28, itemHeight: 1.5, itemGap: 4, padding: [3, 6, 3, 8] },
  { ...legendBase, data: ['TDOS', 'Fe', 'O', 'Zn', 'Y'], left: 1090, top: 95, itemWidth: 26, itemHeight: 2.5, itemGap: 2, padding: [3, 6, 3, 6] },
  { ...legendBase, data: ['TDOS', 'Fe', 'O', 'Zn', 'Y'], left: 1090, top: 589, itemWidth: 26, itemHeight: 2.5, itemGap: 2, padding: [3, 6, 3, 6] }
];

function title(text, x, y) {
  return {
    type: 'text', x, y, silent: true,
    style: { text, fill: '#000', font: '22px ' + SERIF, align: 'center', verticalAlign: 'middle', textAlign: 'center', textVerticalAlign: 'middle' }
  };
}

const chart = echarts.init(document.getElementById('chart'), null, { renderer: 'canvas' });
chart.setOption({
  backgroundColor: '#fff',
  animation: false,
  grid: grids,
  xAxis: xAxes,
  yAxis: yAxes,
  legend: legends,
  graphic: [
    title('ZONSKA STRUKTURA', 323, 19),
    title('1Y@Zn-ZFO-IS', 650, 29),
    title('PDOS', 981, 19),
    title('2Y@Fe(u)Fe(d)-ZFO-IS', 650, 522)
  ],
  series
});
</script>
</body>
</html>
